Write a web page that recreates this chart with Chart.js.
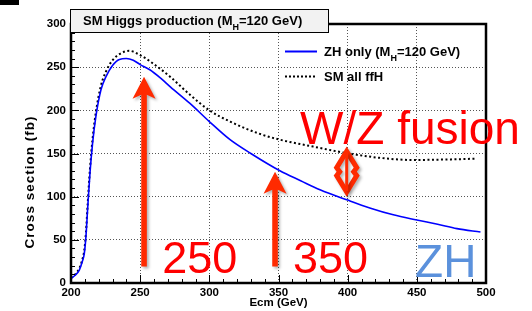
<!DOCTYPE html>
<html>
<head>
<meta charset="utf-8">
<script src="https://cdn.jsdelivr.net/npm/chart.js@4.4.1/dist/chart.umd.min.js"></script>
<style>
  html, body { margin: 0; padding: 0; background: #fff; }
  #wrap { width: 532px; height: 311px; position: relative; }
</style>
</head>
<body>
<div id="wrap"><canvas id="myChart"></canvas></div>
<script>
// values
let zhEcm = [200, 203, 206, 208, 209.6, 210.8, 212, 213.7, 215.6, 218, 221.7, 225.3, 230, 235, 240, 245, 250, 257, 265, 272, 286, 300, 315, 330, 351, 366, 380, 400, 416, 433, 450, 465, 479, 496];
let zhSigma = [5, 9, 15, 24, 34, 54, 85, 127, 162, 193, 224, 239, 252, 259, 260, 258, 253, 247, 237, 227, 208, 187, 166, 150, 130, 118.5, 108, 96, 87, 79, 73, 68, 63, 59];

let ffhEcm = [200, 203, 206, 208, 209.6, 210.8, 212, 213.7, 215.6, 218, 221.7, 225.3, 230, 235, 242, 250, 259.5, 271.6, 286, 300, 315, 336, 351, 375, 399, 423, 447, 470, 493];
let ffhSigma = [6, 10, 17, 26, 38, 58, 90, 132, 167, 198, 229, 245, 258, 265, 269, 264, 254, 239, 218, 200, 187, 173, 166, 158, 150.5, 145, 142.5, 143, 144];

let xTicks = [200, 250, 300, 350, 400, 450, 500];
let yTicks = [0, 50, 100, 150, 200, 250, 300];

let seriesLabels = ["ZH only (M_H=120 GeV)", "SM all ffH"];

let toPoints = (xs, ys) => xs.map((x, i) => ({ x: x, y: ys[i] }));

const FONT = "'Liberation Sans', Arial, Helvetica, sans-serif";

// writes "M_H" with a lowered small H
let drawSubText = (ctx, text, x, y, size) => {
    let parts = text.split("_");
    ctx.font = "bold " + size + "px " + FONT;
    ctx.fillText(parts[0], x, y);
    if (parts.length < 2) return;
    x += ctx.measureText(parts[0]).width;
    ctx.font = "bold " + Math.round(size * 0.7) + "px " + FONT;
    ctx.fillText(parts[1][0], x, y + 5);
    x += ctx.measureText(parts[1][0]).width;
    ctx.font = "bold " + size + "px " + FONT;
    ctx.fillText(parts[1].slice(1), x, y);
};

let upArrow = (ctx, x, yTip, yBot) => {
    let head = 22, half = 11.5, shaft = 2.8;
    ctx.beginPath();
    ctx.moveTo(x, yTip);
    ctx.lineTo(x + half, yTip + head);
    ctx.lineTo(x + shaft, yTip + head - 4);
    ctx.lineTo(x + shaft, yBot);
    ctx.lineTo(x - shaft, yBot);
    ctx.lineTo(x - shaft, yTip + head - 4);
    ctx.lineTo(x - half, yTip + head);
    ctx.closePath();
    ctx.fill();
};

const decorations = {
    id: "decorations",
    beforeDraw(chart) {
        let ctx = chart.ctx;
        ctx.save();
        ctx.fillStyle = "#fff";
        ctx.fillRect(0, 0, chart.width, chart.height);
        ctx.restore();
    },
    afterDraw(chart) {
        let ctx = chart.ctx;
        let a = chart.chartArea;
        let xs = chart.scales.x, ys = chart.scales.y;
        ctx.save();

        // minor + major ticks, inside the frame
        ctx.strokeStyle = "#000";
        ctx.lineWidth = 1;
        ctx.beginPath();
        for (let v = 200; v <= 500; v += 10) {
            let px = Math.round(xs.getPixelForValue(v)) + 0.5;
            let len = v % 50 === 0 ? 8 : 4;
            ctx.moveTo(px, a.bottom);
            ctx.lineTo(px, a.bottom - len);
        }
        for (let v = 0; v <= 300; v += 10) {
            let py = Math.round(ys.getPixelForValue(v)) + 0.5;
            let len = v % 50 === 0 ? 8 : 4;
            ctx.moveTo(a.left, py);
            ctx.lineTo(a.left + len, py);
        }
        ctx.stroke();

        // frame
        ctx.lineWidth = 2.5;
        ctx.strokeRect(a.left, a.top, a.right - a.left, a.bottom - a.top);

        // y axis title
        ctx.save();
        ctx.translate(30, 182);
        ctx.rotate(-Math.PI / 2);
        ctx.font = "bold 13.5px " + FONT;
        ctx.letterSpacing = "1px";
        ctx.textAlign = "center";
        ctx.textBaseline = "middle";
        ctx.fillStyle = "#000";
        ctx.fillText("Cross section (fb)", 0, 0);
        ctx.restore();

        // title box
        ctx.fillStyle = "#f2f2f2";
        ctx.fillRect(70.5, 9.5, 258, 23);
        ctx.lineWidth = 1;
        ctx.strokeRect(70.5, 9.5, 258, 23);
        ctx.fillStyle = "#000";
        ctx.textBaseline = "alphabetic";
        ctx.textAlign = "left";
        drawSubText(ctx, "SM Higgs production (M_H=120 GeV)", 83, 25, 13);
        ctx.fillRect(0, 0, 19, 5);

        // legend
        let ds = chart.data.datasets;
        ctx.lineWidth = 2;
        ctx.strokeStyle = ds[0].borderColor;
        ctx.beginPath();
        ctx.moveTo(285, 51.5);
        ctx.lineTo(317, 51.5);
        ctx.stroke();
        ctx.strokeStyle = "#000";
        ctx.setLineDash([2, 2]);
        ctx.beginPath();
        ctx.moveTo(285, 76.5);
        ctx.lineTo(317, 76.5);
        ctx.stroke();
        ctx.setLineDash([]);
        ctx.fillStyle = "#000";
        drawSubText(ctx, ds[0].label, 324, 56, 13);
        drawSubText(ctx, ds[1].label, 324, 81, 13);

        // red annotations
        ctx.shadowColor = "rgba(0,0,0,0.3)";
        ctx.shadowBlur = 3;
        ctx.shadowOffsetX = 2;
        ctx.shadowOffsetY = 2;
        ctx.fillStyle = "#ff2a00";
        upArrow(ctx, xs.getPixelForValue(252.8), ys.getPixelForValue(239), ys.getPixelForValue(19));
        upArrow(ctx, xs.getPixelForValue(347.5), ys.getPixelForValue(129), ys.getPixelForValue(19));

        // W/Z double arrow
        let dx = xs.getPixelForValue(399.3);
        let dTop = ys.getPixelForValue(156), dBot = ys.getPixelForValue(102);
        let dMid = (dTop + dBot) / 2;
        ctx.strokeStyle = "#ff2a00";
        ctx.lineWidth = 5;
        ctx.lineJoin = "miter";
        ctx.beginPath();
        ctx.moveTo(dx, dTop + 3);
        ctx.lineTo(dx + 10, dMid - 4);
        ctx.lineTo(dx + 7, dMid);
        ctx.lineTo(dx + 10, dMid + 4);
        ctx.lineTo(dx, dBot - 3);
        ctx.lineTo(dx - 10, dMid + 4);
        ctx.lineTo(dx - 7, dMid);
        ctx.lineTo(dx - 10, dMid - 4);
        ctx.closePath();
        ctx.stroke();
        ctx.lineWidth = 3;
        ctx.beginPath();
        ctx.moveTo(dx, dTop + 4);
        ctx.lineTo(dx, dBot - 4);
        ctx.stroke();

        ctx.shadowColor = "rgba(0,0,0,0)";
        ctx.font = "45px " + FONT;
        ctx.fillStyle = "#ff0000";
        ctx.fillText("250", xs.getPixelForValue(266), ys.getPixelForValue(11.5));
        ctx.fillText("350", xs.getPixelForValue(360.5), ys.getPixelForValue(11.5));
        ctx.font = "46px " + FONT;
        ctx.fillText("W/Z fusion", xs.getPixelForValue(365.6), ys.getPixelForValue(161.5));
        ctx.fillStyle = "#5b91dc";
        ctx.fillText("ZH", xs.getPixelForValue(448.7), ys.getPixelForValue(7.5));

        ctx.restore();
    },
};

let drawChart = () => {
    var ctx = document.getElementById("myChart").getContext("2d");
    return new Chart(ctx, {
        type: "line",
        data: {
            datasets: [
                {
                    label: seriesLabels[0],
                    data: toPoints(zhEcm, zhSigma),
                    borderColor: "#0000ff",
                    borderWidth: 1.6,
                    pointRadius: 0,
                    cubicInterpolationMode: "monotone",
                },
                {
                    label: seriesLabels[1],
                    data: toPoints(ffhEcm, ffhSigma),
                    borderColor: "#000000",
                    borderWidth: 2,
                    borderDash: [2, 2.5],
                    pointRadius: 0,
                    cubicInterpolationMode: "monotone",
                },
            ],
        },
        options: {
            responsive: true,
            maintainAspectRatio: false,
            animation: false,
            layout: {
                padding: { top: 24, right: 46, left: 0, bottom: 0 },
            },
            plugins: {
                legend: { display: false },
                tooltip: { enabled: false },
            },
            scales: {
                x: {
                    type: "linear",
                    min: 200,
                    max: 500,
                    afterFit: (scale) => { scale.height = 28; },
                    afterBuildTicks: (scale) => { scale.ticks = xTicks.map((v) => ({ value: v })); },
                    grid: { color: "#555", lineWidth: 1, drawTicks: false },
                    border: { display: false, dash: [1, 2] },
                    ticks: {
                        color: "#000",
                        padding: 3,
                        maxRotation: 0,
                        font: { family: FONT, size: 11.5, weight: "bold" },
                    },
                    title: {
                        display: true,
                        text: "Ecm (GeV)",
                        color: "#000",
                        padding: { top: 0, bottom: 1 },
                        font: { family: FONT, size: 11.5, weight: "bold" },
                    },
                },
                y: {
                    type: "linear",
                    min: 0,
                    max: 300,
                    afterFit: (scale) => { scale.width = 71; },
                    afterBuildTicks: (scale) => { scale.ticks = yTicks.map((v) => ({ value: v })); },
                    grid: { color: "#555", lineWidth: 1, drawTicks: false },
                    border: { display: false, dash: [1, 2] },
                    ticks: {
                        color: "#000",
                        padding: 5,
                        font: { family: FONT, size: 11.5, weight: "bold" },
                    },
                },
            },
        },
        plugins: [decorations],
    });
};
drawChart();
</script>
</body>
</html>
